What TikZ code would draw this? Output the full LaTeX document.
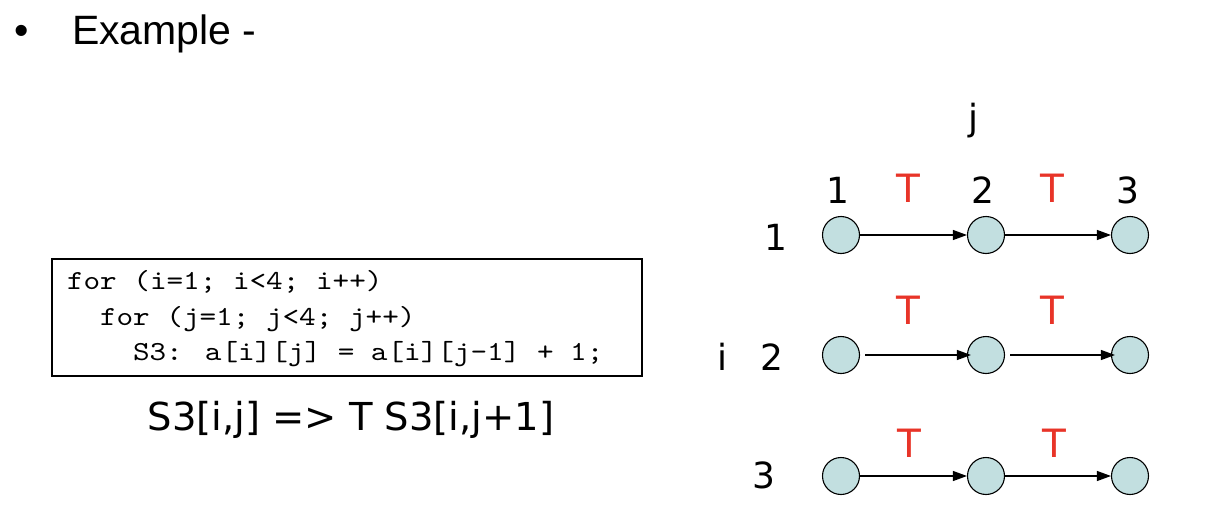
\documentclass[tikz,border=0pt]{standalone}
\usepackage{fontspec}
\setmainfont{Liberation Sans}
\newfontfamily\dv{DejaVu Sans}
\newfontfamily\cmono{lmmono10-regular.otf}[FakeStretch=1.15]
\usetikzlibrary{arrows.meta}
\definecolor{nodefill}{RGB}{194,223,224}
\definecolor{tred}{RGB}{232,52,40}
\tikzset{
  txt/.style={inner sep=0pt, outer sep=0pt, anchor=base},
  lbl/.style={txt, font=\dv\fontsize{36}{40}\selectfont},
  tlbl/.style={txt, font=\dv\fontsize{39}{42}\selectfont, text=tred},
  stmt/.style={circle, draw=black, line width=1.1pt, fill=nodefill, minimum size=37pt, inner sep=0pt},
  dep/.style={line width=1.1pt, -{Triangle[length=14pt,width=10pt]}},
  code/.style={inner sep=0pt, outer sep=0pt, anchor=base west, font=\cmono\fontsize{27.5}{30}\selectfont},
}
\begin{document}
\begin{tikzpicture}[x=1pt,y=-1pt]
\useasboundingbox (0,0) rectangle (1224,522);
% title
\node[txt, font=\fontsize{41}{44}\selectfont] (bul) at (22,44) {•};
\node[txt, anchor=base west, font=\fontsize{41}{44}\selectfont] (title) at (72,44) {Example -};
% code box
\node[draw, line width=1.1pt, minimum width=590pt, minimum height=117pt, inner sep=0pt] (box) at (347,317.5) {};
\node[code] (c1) at (67,289) {for (i=1; i<4; i++)};
\node[code] (c2) at (100,325) {for (j=1; j<4; j++)};
\node[code] (c3) at (133,360) {S3: a[i][j] = a[i][j-1] + 1;};
\node[txt, font=\dv\fontsize{38.5}{42}\selectfont] (eq) at (351,430) {S3[i,j] => T S3[i,j+1]};
% axis labels
\node[lbl] (j) at (973,130) {j};
\node[lbl] (col1) at (838,203) {1};
\node[lbl] (col2) at (983,203) {2};
\node[lbl] (col3) at (1128,203) {3};
\node[lbl] (row1) at (776,250) {1};
\node[lbl] (ilab) at (722,370) {i};
\node[lbl] (row2) at (772,370) {2};
\node[lbl] (row3) at (764,488) {3};
% nodes
\node[stmt] (a1) at (841,235) {};
\node[stmt] (a2) at (986,235) {};
\node[stmt] (a3) at (1130,235) {};
\node[stmt] (b1) at (841,355) {};
\node[stmt] (b2) at (986,355) {};
\node[stmt] (b3) at (1130,355) {};
\node[stmt] (d1) at (841,476) {};
\node[stmt] (d2) at (986,476) {};
\node[stmt] (d3) at (1130,476) {};
% arrows
\draw[dep] (a1) -- (a2);
\draw[dep] (a2) -- (a3);
\draw[dep, shorten <=5pt, shorten >=-4pt] (b1) -- (b2);
\draw[dep, shorten <=5pt, shorten >=-4pt] (b2) -- (b3);
\draw[dep] (d1) -- (d2);
\draw[dep] (d2) -- (d3);
% T labels
\node[tlbl] (ta1) at (908,202) {T};
\node[tlbl] (ta2) at (1052,202) {T};
\node[tlbl] (tb1) at (908,324) {T};
\node[tlbl] (tb2) at (1052,324) {T};
\node[tlbl] (td1) at (909,457) {T};
\node[tlbl] (td2) at (1054,457) {T};
\end{tikzpicture}
\end{document}
